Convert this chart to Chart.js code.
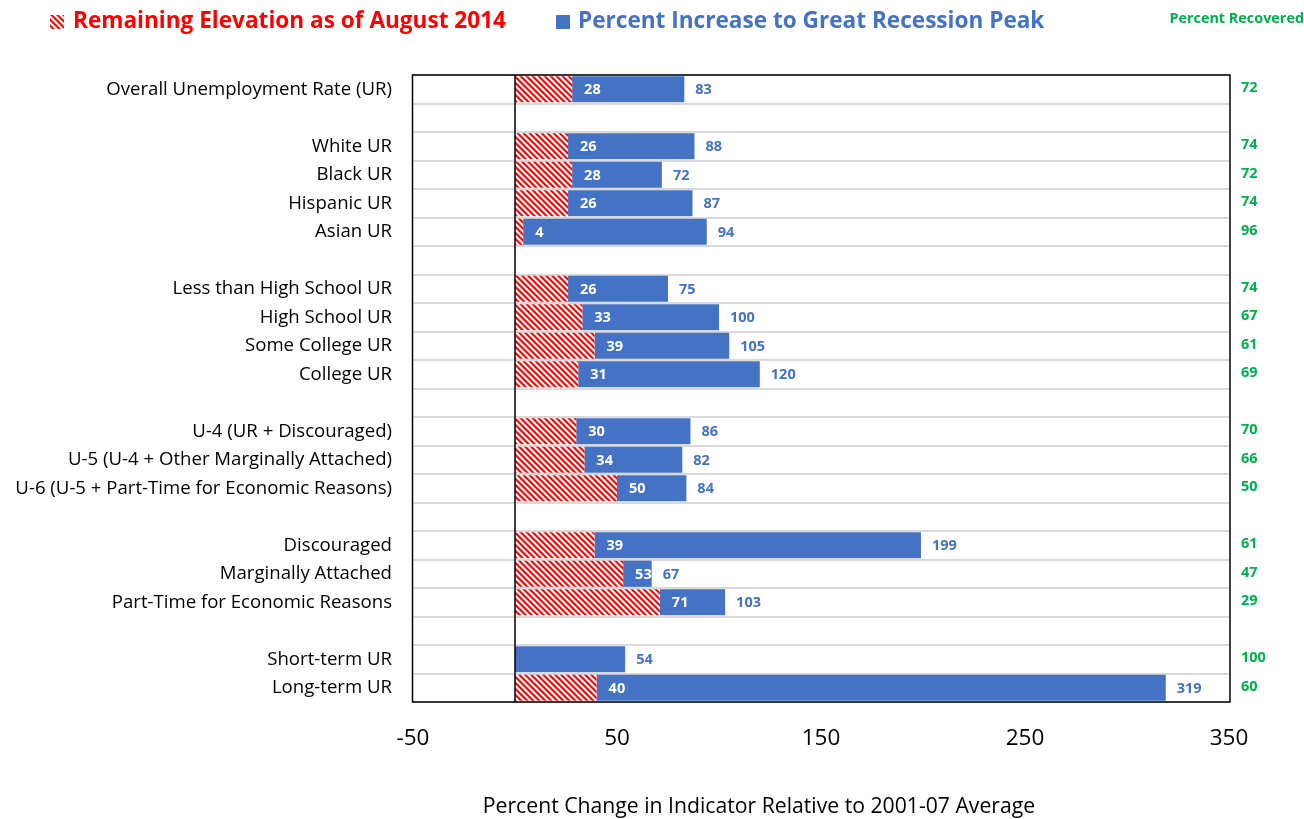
<!DOCTYPE html>
<html>
<head>
<meta charset="utf-8">
<script src="https://cdn.jsdelivr.net/npm/chart.js@4.4.1/dist/chart.umd.min.js"></script>
<style>
html,body{margin:0;padding:0;background:#fff;}
#wrap{width:1304px;height:819px;position:relative;}
</style>
</head>
<body>
<div id="wrap"><canvas id="c" width="1304" height="819"></canvas></div>
<script>
const categories = [
  "Overall Unemployment Rate (UR)", "",
  "White UR", "Black UR", "Hispanic UR", "Asian UR", "",
  "Less than High School UR", "High School UR", "Some College UR", "College UR", "",
  "U-4 (UR + Discouraged)", "U-5 (U-4 + Other Marginally Attached)", "U-6 (U-5 + Part-Time for Economic Reasons)", "",
  "Discouraged", "Marginally Attached", "Part-Time for Economic Reasons", "",
  "Short-term UR", "Long-term UR"
];
const remaining = [28, null, 26, 28, 26, 4, null, 26, 33, 39, 31, null, 30, 34, 50, null, 39, 53, 71, null, 0, 40];
const peak      = [83, null, 88, 72, 87, 94, null, 75, 100, 105, 120, null, 86, 82, 84, null, 199, 67, 103, null, 54, 319];
const recovered = [72, null, 74, 72, 74, 96, null, 74, 67, 61, 69, null, 70, 66, 50, null, 61, 47, 29, null, 100, 60];
const xTicks = [-50, 50, 150, 250, 350];

const RED = '#FF0000', BLUE = '#4472C4', GREEN = '#00B050';
const FONT = "'Open Sans', 'Noto Sans', sans-serif";

function makeHatch(){
  const s = 6;
  const p = document.createElement('canvas');
  p.width = s; p.height = s;
  const g = p.getContext('2d');
  const img = g.createImageData(s, s);
  const gb = [0, 0, 128, 255, 255, 128];
  for (let yy = 0; yy < s; yy++) {
    for (let xx = 0; xx < s; xx++) {
      const k = (yy * s + xx) * 4;
      const d = (((xx - yy) % s) + s) % s;
      img.data[k] = 255;
      img.data[k + 1] = gb[d];
      img.data[k + 2] = gb[d];
      img.data[k + 3] = 255;
    }
  }
  g.putImageData(img, 0, 0);
  return g.createPattern(p, 'repeat');
}
const ctx0 = document.getElementById('c').getContext('2d');
const hatch = makeHatch();

const redData = remaining.map(v => v === null ? null : [0, v]);
const blueData = remaining.map((v, i) => v === null ? null : [v, peak[i]]);

const PLOT_LEFT = 413, PLOT_RIGHT = 1229, PLOT_TOP = 75, PLOT_BOTTOM = 702;

const overlay = {
  id: 'overlay',
  afterDatasetsDraw(chart) {
    const {ctx, chartArea: a, scales: {x, y}} = chart;
    ctx.save();
    const x0 = x.getPixelForValue(0);
    ctx.strokeStyle = '#000'; ctx.lineWidth = 1.5;
    ctx.beginPath(); ctx.moveTo(x0, a.top); ctx.lineTo(x0, a.bottom); ctx.stroke();
    ctx.strokeRect(a.left - 0.5, a.top, a.right - a.left + 1.5, a.bottom - a.top);
    ctx.textBaseline = 'middle';
    ctx.font = "bold 14.5px " + FONT;
    for (let i = 0; i < categories.length; i++) {
      if (remaining[i] === null) continue;
      const yc = y.getPixelForValue(i) + 1;
      if (remaining[i] > 0) {
        ctx.fillStyle = '#fff'; ctx.textAlign = 'left';
        ctx.fillText(String(remaining[i]), x.getPixelForValue(remaining[i]) + 12, yc);
      }
      ctx.fillStyle = BLUE; ctx.textAlign = 'left';
      ctx.fillText(String(peak[i]), x.getPixelForValue(peak[i]) + 11, yc);
      ctx.fillStyle = GREEN;
      ctx.fillText(String(recovered[i]), a.right + 12, yc - 2);
    }
    ctx.restore();
  },
  afterDraw(chart) {
    const {ctx} = chart;
    ctx.save();
    ctx.textBaseline = 'middle';
    ctx.font = "bold 22.6px " + FONT;
    ctx.fillStyle = hatch; ctx.fillRect(50, 15, 14, 14);
    ctx.fillStyle = RED; ctx.textAlign = 'left';
    ctx.fillText('Remaining Elevation as of August 2014', 73, 22);
    ctx.fillStyle = BLUE; ctx.fillRect(556, 15, 14, 14);
    ctx.fillText('Percent Increase to Great Recession Peak', 578, 22);
    ctx.font = "bold 14.4px " + FONT;
    ctx.fillStyle = GREEN; ctx.textAlign = 'right';
    ctx.fillText('Percent Recovered', 1304, 19);
    ctx.font = "21.2px " + FONT;
    ctx.fillStyle = '#000'; ctx.textAlign = 'center';
    ctx.fillText('Percent Change in Indicator Relative to 2001-07 Average', 759, 807);
    ctx.restore();
  }
};

new Chart(ctx0, {
  type: 'bar',
  data: {
    labels: categories,
    datasets: [
      { label: 'Remaining Elevation as of August 2014', data: redData, backgroundColor: hatch, grouped: false,
        barPercentage: 0.92, categoryPercentage: 1.0, borderWidth: 0 },
      { label: 'Percent Increase to Great Recession Peak', data: blueData, backgroundColor: BLUE, grouped: false,
        barPercentage: 0.92, categoryPercentage: 1.0, borderWidth: 0 }
    ]
  },
  options: {
    indexAxis: 'y',
    responsive: false,
    animation: false,
    devicePixelRatio: 1,
    layout: { padding: { top: PLOT_TOP, right: 1304 - PLOT_RIGHT, left: 0, bottom: 0 } },
    plugins: { legend: { display: false }, tooltip: { enabled: false } },
    scales: {
      x: {
        type: 'linear', min: -50, max: 350,
        afterBuildTicks(s) { s.ticks = xTicks.map(v => ({ value: v })); },
        afterFit(s) { s.height = 819 - PLOT_BOTTOM; },
        grid: { display: false, drawTicks: false },
        border: { display: false },
        ticks: { color: '#000', font: { family: FONT, size: 22.5 }, padding: 23, maxRotation: 0 }
      },
      y: {
        type: 'category',
        afterFit(s) { s.width = PLOT_LEFT; },
        grid: { color: '#D9D9D9', lineWidth: 2, drawTicks: false, offset: true },
        border: { display: false },
        ticks: { color: '#000', font: { family: FONT, size: 18.6 }, padding: 21, autoSkip: false }
      }
    }
  },
  plugins: [overlay]
});
</script>
</body>
</html>
